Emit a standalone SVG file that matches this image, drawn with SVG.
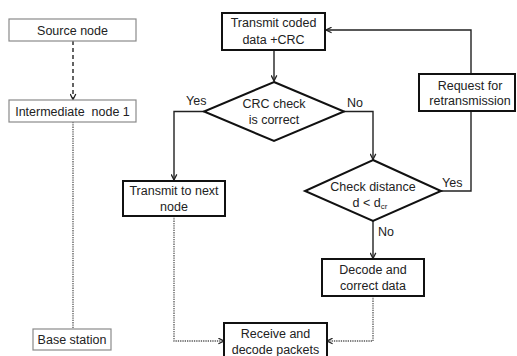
<svg xmlns="http://www.w3.org/2000/svg" width="517" height="356" viewBox="0 0 517 356">
<defs>
<style>
text{font-family:"Liberation Sans",Arial,sans-serif;font-size:12.5px;fill:#222;text-anchor:middle}
.lbl{text-anchor:start}
.thin{fill:#fff;stroke:#8a8a8a;stroke-width:1.2}
.thick{fill:#fff;stroke:#111;stroke-width:2}
.c{fill:none;stroke:#222;stroke-width:1.4}
.dash{stroke-dasharray:4 3}
.dot{stroke:#555;stroke-width:1.3;stroke-dasharray:1.3 1}
</style>
<marker id="ah" viewBox="0 0 10 10" refX="9" refY="5" markerWidth="7" markerHeight="7" markerUnits="userSpaceOnUse" orient="auto">
<path d="M1,1 L9,5 L1,9" fill="none" stroke="#222" stroke-width="1.8"/>
</marker>
</defs>
<g id="connectors">
<line class="c dash" x1="73" y1="41" x2="73" y2="99"/>
<line class="c" x1="73" y1="99.5" x2="73" y2="99.6" marker-end="url(#ah)"/>
<line class="c dot" x1="73" y1="122" x2="73" y2="329"/>
<line class="c" x1="274" y1="50" x2="274" y2="81" marker-end="url(#ah)"/>
<polyline class="c" points="204,111.5 174,111.5 174,180" marker-end="url(#ah)"/>
<polyline class="c" points="344,111.5 373,111.5 373,159.5" marker-end="url(#ah)"/>
<polyline class="c" points="441,191 471,191 471,30 326,30" marker-end="url(#ah)"/>
<line class="c" x1="373" y1="221" x2="373" y2="258.5" marker-end="url(#ah)"/>
<polyline class="c dot" points="174,216 174,341 224,341" marker-end="url(#ah)"/>
<polyline class="c dot" points="373,296 373,341 327,341" marker-end="url(#ah)"/>
<text class="lbl" x="186" y="105">Yes</text>
<text class="lbl" x="347" y="107">No</text>
<text class="lbl" x="442" y="187">Yes</text>
<text class="lbl" x="378" y="236">No</text>
</g>
<g id="source">
<rect class="thin" x="9" y="19" width="127" height="22"/>
<text x="72.5" y="34.5">Source node</text>
</g>
<g id="intermediate">
<rect class="thin" x="9" y="100" width="127" height="22"/>
<text x="72.5" y="115.5" xml:space="preserve">Intermediate  node 1</text>
</g>
<g id="base">
<rect class="thin" x="33" y="329" width="78" height="21"/>
<text x="72" y="344">Base station</text>
</g>
<g id="transmit-coded">
<rect class="thick" x="222" y="13" width="103" height="37"/>
<text x="273.5" y="27">Transmit coded</text>
<text x="273.5" y="43.5">data +CRC</text>
</g>
<g id="crc">
<polygon class="thick" points="274,82 344,111.5 274,141 204,111.5"/>
<text x="274" y="108">CRC check</text>
<text x="274" y="124">is correct</text>
</g>
<g id="request">
<rect class="thick" x="419" y="74" width="96" height="37"/>
<text x="470" y="89.5">Request for</text>
<text x="470" y="105">retransmission</text>
</g>
<g id="transmit-next">
<rect class="thick" x="123" y="181" width="102" height="35"/>
<text x="174" y="195">Transmit to next</text>
<text x="174" y="211">node</text>
</g>
<g id="check-distance">
<polygon class="thick" points="373,160 441,191 373,221 305,191"/>
<text x="373" y="191">Check distance</text>
<text x="370" y="207">d &lt; d<tspan font-size="8" dy="2">cr</tspan></text>
</g>
<g id="decode">
<rect class="thick" x="322" y="259" width="102" height="37"/>
<text x="373" y="274">Decode and</text>
<text x="373" y="290">correct data</text>
</g>
<g id="receive">
<rect class="thick" x="224" y="323" width="103" height="36"/>
<text x="275.5" y="337.5">Receive and</text>
<text x="275.5" y="354">decode packets</text>
</g>
</svg>
